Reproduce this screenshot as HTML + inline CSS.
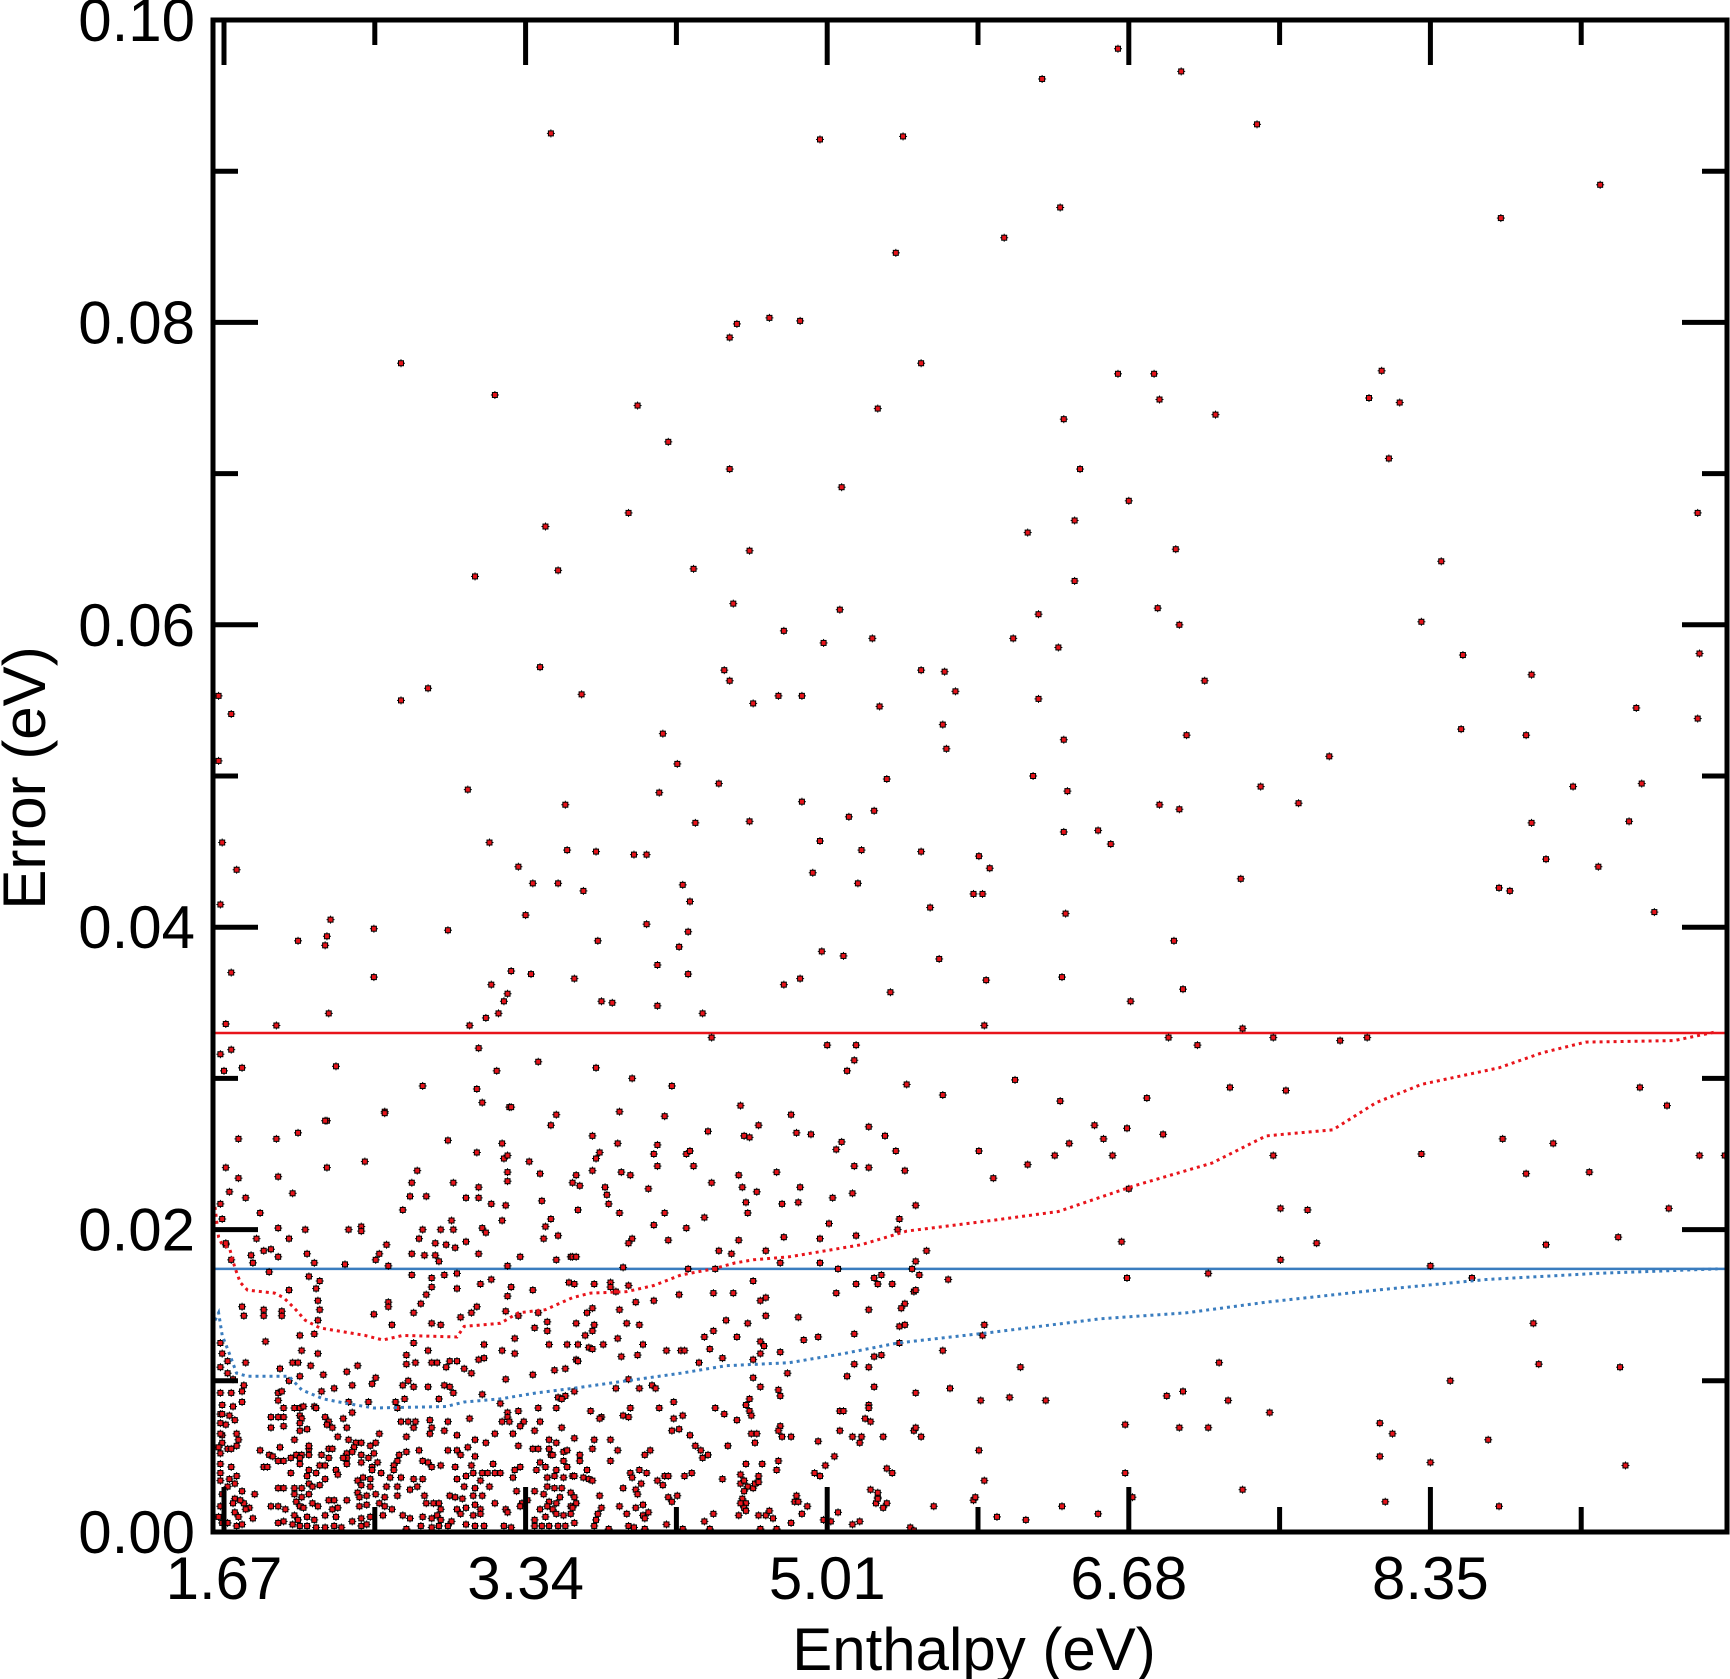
<!DOCTYPE html>
<html><head><meta charset="utf-8"><style>
html,body{margin:0;padding:0;background:#fff}
svg{display:block}
text{font-family:"Liberation Sans",Arial,sans-serif;fill:#000}
</style></head><body>
<svg id="chart" width="1730" height="1679" viewBox="0 0 1730 1679" xmlns="http://www.w3.org/2000/svg">
<g id="marks"></g>
<g id="axes"></g>
</svg>
<script>
const xTickValues=[1.67,3.34,5.01,6.68,8.35];
const xTickLabels=["1.67","3.34","5.01","6.68","8.35"];
const xMinorValues=[2.505,4.175,5.845,7.515,9.185];
const yTickValues=[0,0.02,0.04,0.06,0.08,0.10];
const yTickLabels=["0.00","0.02","0.04","0.06","0.08","0.10"];
const yMinorValues=[0.01,0.03,0.05,0.07,0.09];
const redThreshold=0.033;
const blueThreshold=0.0174;
const redCurveX=[1.62,1.64,1.66,1.70,1.73,1.76,1.80,1.95,2.00,2.06,2.12,2.20,2.30,2.45,2.55,2.66,2.96,3.00,3.20,3.30,3.45,3.60,3.70,3.90,4.05,4.20,4.38,4.50,4.60,4.80,5.00,5.20,5.45,5.92,6.29,6.71,7.14,7.44,7.81,8.05,8.30,8.73,8.97,9.21,9.70,9.94];
const redCurveY=[0.0215,0.0195,0.0190,0.0188,0.0175,0.0165,0.0160,0.0158,0.0155,0.0148,0.0140,0.0135,0.0133,0.0130,0.0127,0.0130,0.0129,0.0136,0.0138,0.0145,0.0147,0.0155,0.0158,0.0159,0.0163,0.0170,0.0174,0.0178,0.0180,0.0182,0.0186,0.0190,0.0199,0.0206,0.0212,0.0229,0.0244,0.0262,0.0266,0.0284,0.0296,0.0307,0.0317,0.0324,0.0325,0.0331];
const blueCurveX=[1.62,1.64,1.66,1.70,1.74,1.80,2.03,2.10,2.22,2.35,2.50,2.90,3.00,3.20,3.40,3.60,3.90,4.20,4.45,4.80,5.10,5.40,5.92,6.52,7.00,7.44,8.05,8.66,9.27,9.94];
const blueCurveY=[0.0140,0.0145,0.0130,0.0118,0.0105,0.0103,0.0103,0.0094,0.0088,0.0085,0.0082,0.0083,0.0086,0.0088,0.0092,0.0095,0.0100,0.0105,0.0110,0.0112,0.0118,0.0125,0.0132,0.0141,0.0145,0.0152,0.0160,0.0167,0.0171,0.0174];
const samples=[
[6.62,0.0981],[6.20,0.0961],[6.97,0.0966],[7.39,0.0931],[3.48,0.0925],[4.97,0.0921],[5.43,0.0923],[9.29,0.0891],[8.74,0.0869],[6.30,0.0876],[5.99,0.0856],[5.39,0.0846],[4.47,0.0790],[4.51,0.0799],[4.69,0.0803],[4.86,0.0801],[2.65,0.0773],[5.53,0.0773],[6.62,0.0766],[6.82,0.0766],[8.08,0.0768],[8.01,0.0750],[8.18,0.0747],[6.85,0.0749],[3.17,0.0752],[3.96,0.0745],[5.29,0.0743],[7.16,0.0739],[6.32,0.0736],[4.13,0.0721],[8.12,0.0710],[6.41,0.0703],[4.47,0.0703],[5.09,0.0691],[6.68,0.0682],[3.91,0.0674],[3.45,0.0665],[6.38,0.0669],[9.83,0.0674],[6.12,0.0661],[4.58,0.0649],[6.94,0.0650],[8.41,0.0642],[3.52,0.0636],[3.06,0.0632],[4.27,0.0637],[6.38,0.0629],[4.49,0.0614],[5.08,0.0610],[6.84,0.0611],[6.18,0.0607],[8.30,0.0602],[6.96,0.0600],[4.77,0.0596],[6.04,0.0591],[5.26,0.0591],[4.99,0.0588],[6.29,0.0585],[8.53,0.0580],[9.84,0.0581],[3.42,0.0572],[4.44,0.0570],[5.53,0.0570],[5.66,0.0569],[8.91,0.0567],[4.47,0.0563],[7.10,0.0563],[3.65,0.0554],[2.80,0.0558],[4.60,0.0548],[4.74,0.0553],[4.87,0.0553],[6.18,0.0551],[2.65,0.0550],[5.72,0.0556],[9.49,0.0545],[5.30,0.0546],[9.83,0.0538],[5.65,0.0534],[8.52,0.0531],[8.88,0.0527],[6.32,0.0524],[7.00,0.0527],[4.10,0.0528],[5.67,0.0518],[7.79,0.0513],[4.18,0.0508],[5.34,0.0498],[9.14,0.0493],[9.52,0.0495],[3.02,0.0491],[4.41,0.0495],[7.41,0.0493],[6.34,0.0490],[6.15,0.0500],[4.08,0.0489],[4.87,0.0483],[7.62,0.0482],[6.85,0.0481],[3.56,0.0481],[6.96,0.0478],[5.13,0.0473],[4.28,0.0469],[4.58,0.0470],[8.91,0.0469],[9.45,0.0470],[5.27,0.0477],[6.51,0.0464],[6.58,0.0455],[6.32,0.0463],[3.14,0.0456],[4.97,0.0457],[1.71,0.0541],[1.64,0.0553],[1.64,0.0510],[1.66,0.0456],[1.74,0.0438],[5.53,0.0450],[5.20,0.0451],[5.85,0.0447],[5.91,0.0439],[3.57,0.0451],[3.73,0.0450],[3.94,0.0448],[4.01,0.0448],[8.99,0.0445],[9.28,0.0440],[3.30,0.0440],[4.93,0.0436],[7.30,0.0432],[5.18,0.0429],[3.52,0.0429],[3.38,0.0429],[4.21,0.0428],[8.73,0.0426],[8.79,0.0424],[5.82,0.0422],[3.66,0.0424],[5.87,0.0422],[4.25,0.0417],[5.58,0.0413],[9.59,0.0410],[6.33,0.0409],[3.34,0.0408],[1.65,0.0415],[2.26,0.0405],[2.50,0.0399],[2.91,0.0398],[4.01,0.0402],[4.24,0.0397],[2.08,0.0391],[2.24,0.0394],[2.23,0.0388],[3.74,0.0391],[4.19,0.0387],[6.93,0.0391],[4.98,0.0384],[5.10,0.0381],[5.63,0.0379],[4.07,0.0375],[3.26,0.0371],[3.37,0.0369],[4.24,0.0369],[1.71,0.0370],[2.50,0.0367],[3.61,0.0366],[4.86,0.0366],[5.89,0.0365],[6.31,0.0367],[4.77,0.0362],[3.15,0.0362],[6.98,0.0359],[5.36,0.0357],[3.24,0.0356],[3.22,0.0351],[3.76,0.0351],[3.82,0.0350],[6.69,0.0351],[3.19,0.0343],[4.07,0.0348],[4.32,0.0343],[2.25,0.0343],[3.12,0.0340],[1.68,0.0336],[1.96,0.0335],[5.88,0.0335],[7.31,0.0333],[4.37,0.0327],[7.48,0.0327],[6.90,0.0327],[7.06,0.0322],[7.85,0.0325],[8.00,0.0327],[5.01,0.0322],[5.17,0.0322],[1.65,0.0316],[1.71,0.0319],[3.03,0.0335],[3.08,0.0320],[3.41,0.0311],[1.67,0.0305],[1.77,0.0307],[2.29,0.0308],[3.18,0.0305],[3.73,0.0307],[5.16,0.0312],[5.12,0.0305],[6.05,0.0299],[3.93,0.0300],[2.77,0.0295],[3.07,0.0293],[4.15,0.0295],[7.24,0.0294],[7.55,0.0292],[9.51,0.0294],[5.65,0.0289],[5.45,0.0296],[6.30,0.0285],[6.78,0.0287],[9.66,0.0282],[3.25,0.0281],[2.56,0.0278],[2.24,0.0272],[6.67,0.0267],[6.49,0.0269],[6.87,0.0263],[8.75,0.0260],[9.03,0.0257],[9.84,0.0249],[8.30,0.0250],[7.48,0.0249],[9.23,0.0238],[9.98,0.0249],[9.67,0.0214],[9.39,0.0195],[8.88,0.0237],[7.67,0.0213],[7.52,0.0214],[7.72,0.0191],[7.52,0.0180],[6.67,0.0168],[7.12,0.0171],[8.99,0.0190],[8.92,0.0138],[8.95,0.0111],[8.35,0.0176],[8.58,0.0168],[8.46,0.0100],[9.40,0.0109],[8.07,0.0072],[8.14,0.0065],[8.07,0.0050],[8.67,0.0061],[8.35,0.0046],[9.43,0.0044],[8.73,0.0017],[8.10,0.0020],[7.46,0.0079],[7.23,0.0087],[6.89,0.0090],[6.98,0.0093],[7.18,0.0112],[7.12,0.0069],[6.96,0.0069],[7.31,0.0028],[6.66,0.0071],[6.70,0.0023],[6.66,0.0039],[6.51,0.0012],[6.31,0.0017],[6.22,0.0087],[6.08,0.0109],[6.11,0.0008],[5.88,0.0034],[5.85,0.0054],[5.82,0.0021],[5.83,0.0023],[5.95,0.0010],[5.49,0.0067],[5.60,0.0017],[5.29,0.0023],[5.25,0.0028],[5.47,0.0003],[6.02,0.0089],[6.68,0.0227],[6.64,0.0192],[5.68,0.0167],[5.85,0.0252],[5.93,0.0234],[6.12,0.0243],[6.27,0.0249],[6.59,0.0249],[6.54,0.0260],[6.35,0.0257],[5.88,0.0137],[5.87,0.0130],[5.65,0.0120],[5.69,0.0095],[5.86,0.0087],
[3.10,0.0284],[3.26,0.0281],[2.56,0.0277],[3.51,0.0276],[2.23,0.0272],[3.48,0.0269],[1.75,0.0260],[1.96,0.0260],[2.08,0.0264],[2.91,0.0259],[3.21,0.0257],[3.07,0.0251],[3.22,0.0247],[3.24,0.0249],[2.45,0.0245],[3.36,0.0245],[1.68,0.0241],[2.24,0.0241],[2.74,0.0239],[3.42,0.0237],[1.75,0.0234],[1.97,0.0235],[3.24,0.0238],[2.71,0.0231],[2.94,0.0231],[3.24,0.0232],[1.70,0.0225],[2.05,0.0224],[1.79,0.0221],[2.70,0.0222],[2.79,0.0222],[3.01,0.0221],[3.08,0.0228],[3.08,0.0221],[3.15,0.0217],[3.43,0.0219],[3.23,0.0216],[1.87,0.0211],[2.66,0.0213],[3.48,0.0207],[2.93,0.0206],[3.21,0.0206],[3.45,0.0202],[1.97,0.0201],[2.12,0.0200],[2.36,0.0200],[2.43,0.0202],[2.43,0.0199],[2.77,0.0200],[2.87,0.0200],[2.94,0.0200],[3.10,0.0201],[3.12,0.0198],[3.52,0.0196],[1.85,0.0194],[2.03,0.0194],[2.75,0.0194],[3.44,0.0194],[1.68,0.0190],[1.89,0.0186],[1.93,0.0187],[2.57,0.0190],[2.84,0.0191],[2.90,0.0190],[2.95,0.0188],[3.01,0.0192],[1.82,0.0183],[1.97,0.0182],[2.13,0.0184],[2.53,0.0184],[2.71,0.0184],[2.78,0.0183],[2.84,0.0183],[3.08,0.0184],[3.31,0.0182],[3.51,0.0180],[3.59,0.0182],[1.71,0.0180],[1.83,0.0178],[2.17,0.0178],[2.51,0.0180],[2.86,0.0179],[2.34,0.0177],[2.58,0.0176],[3.24,0.0176],
[1.92,0.0172],[2.14,0.0169],[2.20,0.0166],[2.71,0.0170],[2.82,0.0168],[2.89,0.0170],[2.96,0.0171],[3.58,0.0165],[2.03,0.0160],[2.18,0.0161],[2.82,0.0162],[2.96,0.0161],[3.09,0.0164],[3.15,0.0167],[3.26,0.0162],[2.79,0.0157],[3.24,0.0156],[3.38,0.0160],[2.19,0.0153],[2.58,0.0152],[2.58,0.0149],[2.76,0.0151],[1.77,0.0149],[1.78,0.0143],[1.89,0.0147],[1.89,0.0143],[1.99,0.0146],[1.99,0.0143],[2.20,0.0147],[2.72,0.0145],[2.50,0.0144],[3.04,0.0145],[3.07,0.0149],[3.23,0.0146],[3.30,0.0143],[3.41,0.0145],[2.98,0.0142],[2.19,0.0140],[2.82,0.0138],[3.46,0.0139],[2.60,0.0137],[2.87,0.0137],[3.39,0.0135],[3.46,0.0133],[2.17,0.0131],[2.09,0.0130],[3.28,0.0128],[1.90,0.0126],[2.72,0.0125],[3.11,0.0124],[3.47,0.0124],[3.57,0.0124],[2.10,0.0120],[2.80,0.0120],[3.21,0.0120],[2.19,0.0118],[2.68,0.0117],[3.28,0.0118],[3.08,0.0114],[3.11,0.0115],[2.96,0.0113],[2.92,0.0113],[2.05,0.0112],[2.08,0.0112],[2.15,0.0110],[2.41,0.0110],[2.68,0.0111],[2.73,0.0112],[2.82,0.0112],[2.85,0.0112],[2.90,0.0109],[3.00,0.0108],[3.04,0.0105],[3.38,0.0104],[3.50,0.0107],[3.56,0.0108],[1.98,0.0108],[1.69,0.0113],[1.79,0.0112],[2.22,0.0104],[2.35,0.0106],[2.51,0.0102],[2.03,0.0100],[2.09,0.0103],[2.69,0.0100],[2.28,0.0095],[2.38,0.0097],[2.49,0.0098],[2.66,0.0097],[2.72,0.0096],[2.80,0.0096],[2.89,0.0097],[2.92,0.0096],[3.23,0.0101],[1.78,0.0097],[1.77,0.0093],[1.97,0.0092],[1.99,0.0093],[2.21,0.0093],[2.94,0.0092],[3.10,0.0091],[1.71,0.0092],[1.77,0.0086],[1.97,0.0087],[2.36,0.0086],[2.47,0.0086],[2.67,0.0088],[2.86,0.0088],[3.52,0.0089],[3.56,0.0090],[3.54,0.0088],[1.66,0.0084],[1.72,0.0083],[2.00,0.0082],[2.06,0.0082],[2.09,0.0082],[2.11,0.0083],[2.17,0.0083],[2.18,0.0082],[2.62,0.0086],[2.63,0.0082],[3.20,0.0085],[3.51,0.0082],[3.41,0.0082],[3.30,0.0080],[2.38,0.0079],[3.24,0.0079],[1.70,0.0077],[1.93,0.0076],[1.97,0.0076],[2.00,0.0076],[2.09,0.0077],[2.10,0.0075],[2.23,0.0076],[3.24,0.0076],[1.73,0.0074],[2.33,0.0075],[2.65,0.0073],[2.69,0.0073],[2.73,0.0073],[2.81,0.0074],[2.91,0.0073],[3.03,0.0075],[3.21,0.0073],[3.25,0.0073],[3.33,0.0073],[3.42,0.0073],[2.09,0.0072],[2.25,0.0073],[1.68,0.0071],[2.00,0.0070],[2.24,0.0071],[2.72,0.0069],[3.31,0.0070],[1.93,0.0069],[2.13,0.0068],[2.27,0.0069],[2.35,0.0069],[2.82,0.0069],[3.54,0.0069],[3.39,0.0067],[2.09,0.0067],[2.53,0.0065],[2.89,0.0067],[1.74,0.0065],[1.66,0.0064],[2.30,0.0063],[2.68,0.0063],[2.81,0.0065],[2.96,0.0064],[3.17,0.0065],[3.27,0.0065],[1.75,0.0061],[2.06,0.0061],[2.36,0.0061],[3.06,0.0061],[3.47,0.0061],[3.30,0.0057],[3.51,0.0059],[3.12,0.0059],[1.66,0.0059],[1.74,0.0057],[2.40,0.0059],[2.43,0.0059],[2.51,0.0059],[1.69,0.0055],[1.87,0.0054],[1.98,0.0056],[2.25,0.0055],[2.27,0.0055],[2.39,0.0056],[2.48,0.0057],[3.38,0.0055],[3.41,0.0055],[3.55,0.0053],[3.47,0.0055],[2.96,0.0054],[2.91,0.0054],[3.02,0.0056],[2.68,0.0053],[2.75,0.0054],[2.14,0.0055],[2.14,0.0057],[1.71,0.0055],[1.92,0.0051],[1.94,0.0050],[2.07,0.0051],[2.04,0.0049],[2.10,0.0051],[2.14,0.0051],[2.21,0.0051],[2.35,0.0052],[2.35,0.0049],[2.38,0.0053],[2.43,0.0051],[2.50,0.0052],[2.64,0.0051],[2.98,0.0051],[3.06,0.0050],[3.48,0.0051],[3.49,0.0051],[3.57,0.0054],[1.97,0.0047],[2.00,0.0047],[2.09,0.0049],[2.33,0.0049],[2.25,0.0049],[2.52,0.0046],[2.47,0.0049],[2.43,0.0046],[2.63,0.0047],[2.77,0.0047],[2.80,0.0046],[3.16,0.0045],[3.42,0.0046],[3.55,0.0047],[1.71,0.0043],[1.89,0.0043],[1.91,0.0043],[2.04,0.0039],[2.09,0.0045],[2.20,0.0044],[2.23,0.0044],[2.29,0.0041],[2.30,0.0038],[2.35,0.0045],[2.49,0.0043],[2.49,0.0041],[2.54,0.0039],[2.61,0.0044],[2.61,0.0041],[2.82,0.0043],[2.87,0.0044],[2.95,0.0043],[3.04,0.0044],[3.05,0.0039],[3.10,0.0039],[3.13,0.0039],[3.17,0.0039],[3.20,0.0039],[3.28,0.0041],[3.31,0.0043],[3.40,0.0041],[3.45,0.0043],[3.51,0.0041],[3.57,0.0043],[3.50,0.0037],[3.46,0.0036],[3.55,0.0036],[3.60,0.0037],[1.74,0.0037],[2.14,0.0041],[2.18,0.0039],[2.13,0.0037],[2.23,0.0035],[2.41,0.0034],[2.44,0.0036],[2.48,0.0035],[2.59,0.0036],[2.65,0.0036],[2.72,0.0035],[2.77,0.0035],[2.96,0.0035],[3.01,0.0037],[3.09,0.0034],[3.27,0.0036],[1.70,0.0035],[1.65,0.0034],[1.73,0.0032],[2.14,0.0032],[2.16,0.0030],[2.20,0.0031],[2.43,0.0031],[2.57,0.0030],[2.63,0.0030],[2.74,0.0030],[2.48,0.0030],[1.97,0.0029],[2.00,0.0029],[2.06,0.0029],[2.10,0.0029],[3.00,0.0030],[3.06,0.0029],[3.14,0.0030],[3.46,0.0030],[3.50,0.0029],[3.54,0.0029],[1.77,0.0027],[1.84,0.0025],[2.41,0.0026],[2.70,0.0028],[2.78,0.0024],[2.92,0.0024],[3.05,0.0024],[3.10,0.0024],[3.29,0.0027],[3.39,0.0027],[3.44,0.0025],[3.53,0.0023],[3.59,0.0026],[2.06,0.0025],[2.10,0.0023],[2.14,0.0025],[2.25,0.0021],[2.28,0.0021],[2.35,0.0021],[2.42,0.0023],[2.46,0.0024],[2.51,0.0025],[2.56,0.0023],[2.63,0.0024],[2.95,0.0023],[2.99,0.0022],[3.17,0.0019],[3.32,0.0019],[3.35,0.0021],[3.47,0.0020],[3.51,0.0019],[3.59,0.0017],[1.73,0.0022],[1.78,0.0019],[1.81,0.0016],[1.93,0.0017],[1.97,0.0017],[2.01,0.0015],[2.07,0.0020],[2.09,0.0017],[2.11,0.0016],[2.16,0.0019],[2.19,0.0017],[2.27,0.0015],[2.30,0.0016],[2.42,0.0017],[2.46,0.0018],[2.53,0.0019],[2.56,0.0017],[2.60,0.0015],[2.79,0.0019],[2.83,0.0019],[2.86,0.0019],[2.87,0.0015],[2.96,0.0015],[3.01,0.0016],[3.06,0.0018],[3.09,0.0015],[3.23,0.0015],[3.31,0.0017],[3.42,0.0015],[3.46,0.0017],[3.49,0.0015],[1.73,0.0013],[1.83,0.0009],[2.00,0.0007],[2.06,0.0011],[2.08,0.0008],[2.13,0.0010],[2.17,0.0008],[2.23,0.0011],[2.29,0.0010],[2.38,0.0007],[2.43,0.0009],[2.48,0.0010],[2.55,0.0011],[2.66,0.0011],[2.70,0.0009],[2.77,0.0010],[2.82,0.0009],[2.85,0.0011],[2.87,0.0008],[2.93,0.0007],[2.98,0.0012],[3.05,0.0011],[3.09,0.0012],[3.24,0.0013],[3.39,0.0008],[3.45,0.0010],[3.51,0.0012],[3.55,0.0011],[3.59,0.0012],[1.64,0.0010],[1.69,0.0006],[1.74,0.0004],[1.77,0.0005],[1.97,0.0006],[2.05,0.0005],[2.09,0.0004],[2.13,0.0004],[2.18,0.0003],[2.23,0.0003],[2.28,0.0004],[2.32,0.0003],[2.43,0.0004],[2.46,0.0005],[2.68,0.0002],[2.76,0.0004],[2.82,0.0003],[2.86,0.0004],[2.91,0.0004],[3.01,0.0005],[3.06,0.0004],[3.11,0.0004],[3.22,0.0004],[3.26,0.0003],[3.39,0.0004],[3.43,0.0004],[3.47,0.0004],[3.52,0.0004],[3.56,0.0004],
[1.65,0.0039],[1.65,0.0045],[1.65,0.0052],[1.65,0.0065],[1.65,0.0072],[1.65,0.0078],[1.66,0.0025],[1.65,0.0017],[1.66,0.0006],[1.69,0.0030],[1.72,0.0019],[1.75,0.0010],[1.79,0.0015],[1.76,0.0021],[1.65,0.0217],[1.66,0.0207],[1.68,0.0191],[1.65,0.0125],[1.66,0.0118],[1.65,0.0109],[1.69,0.0105],[1.72,0.0101],[1.65,0.0092],[1.66,0.0078],[1.64,0.0056],
[3.86,0.0278],[4.11,0.0275],[4.53,0.0282],[4.81,0.0276],[4.63,0.0269],[4.35,0.0265],[3.71,0.0262],[3.85,0.0257],[4.07,0.0256],[3.75,0.0251],[3.73,0.0247],[4.05,0.0250],[4.23,0.0250],[4.25,0.0252],[4.55,0.0262],[4.58,0.0261],[4.84,0.0264],[4.92,0.0263],[5.24,0.0268],[5.33,0.0262],[5.09,0.0258],[5.06,0.0253],[5.39,0.0252],[3.71,0.0239],[3.87,0.0238],[3.92,0.0236],[4.07,0.0242],[4.27,0.0242],[4.52,0.0236],[4.73,0.0238],[5.16,0.0242],[5.24,0.0241],[5.44,0.0239],[3.62,0.0236],[3.60,0.0231],[3.64,0.0229],[3.78,0.0228],[3.79,0.0223],[4.02,0.0227],[4.37,0.0231],[4.54,0.0228],[4.62,0.0225],[4.86,0.0228],[3.80,0.0217],[3.63,0.0213],[3.86,0.0211],[4.11,0.0211],[4.56,0.0218],[4.57,0.0211],[4.76,0.0217],[4.85,0.0218],[5.04,0.0221],[5.15,0.0224],[5.50,0.0216],[4.33,0.0208],[5.41,0.0207],[4.05,0.0203],[4.23,0.0201],[5.02,0.0204],[5.40,0.0200],[3.93,0.0194],[3.91,0.0191],[4.13,0.0193],[4.52,0.0193],[4.77,0.0195],[4.97,0.0194],[5.17,0.0196],[4.41,0.0186],[4.48,0.0184],[4.67,0.0186],[5.56,0.0186],[3.60,0.0182],[3.62,0.0182],[4.97,0.0178],[4.75,0.0178],[5.50,0.0179],[3.88,0.0175],[4.24,0.0174],[4.39,0.0174],[5.07,0.0174],[5.48,0.0174],[5.31,0.0170],[5.52,0.0170],[4.60,0.0166],[5.27,0.0168],[5.37,0.0164],[5.29,0.0164],[5.17,0.0164],[3.61,0.0164],[3.72,0.0164],[3.81,0.0165],[3.81,0.0162],[3.91,0.0163],[3.84,0.0159],[4.19,0.0157],[4.38,0.0158],[4.49,0.0158],[5.06,0.0158],[4.64,0.0153],[4.67,0.0155],[3.95,0.0152],[4.05,0.0153],[5.49,0.0159],[5.50,0.0160],[5.44,0.0151],[5.42,0.0148],[3.71,0.0148],[3.68,0.0145],[3.86,0.0147],[4.67,0.0143],[5.24,0.0147],[4.85,0.0142],[4.45,0.0140],[3.90,0.0138],[3.62,0.0138],[3.72,0.0137],[3.97,0.0137],[4.57,0.0138],[5.41,0.0136],[5.44,0.0137],[3.71,0.0133],[4.38,0.0133],[3.67,0.0130],[3.85,0.0128],[4.33,0.0129],[4.51,0.0129],[4.64,0.0126],[4.88,0.0127],[4.96,0.0129],[5.16,0.0131],[3.63,0.0124],[3.77,0.0124],[3.99,0.0124],[4.66,0.0123],[5.41,0.0125],[3.69,0.0122],[3.71,0.0121],[4.36,0.0121],[4.12,0.0120],[4.20,0.0120],[4.22,0.0120],[4.64,0.0118],[4.75,0.0119],[3.87,0.0116],[3.96,0.0117],[4.43,0.0115],[5.27,0.0116],[5.31,0.0117],[3.62,0.0114],[3.63,0.0113],[4.30,0.0112],[4.60,0.0114],[5.16,0.0111],[5.24,0.0109],[4.79,0.0105],[5.12,0.0103],[3.91,0.0101],[4.60,0.0102],[4.04,0.0097],[4.06,0.0095],[4.64,0.0096],[5.27,0.0096],[3.84,0.0095],[3.97,0.0095],[3.61,0.0093],[4.74,0.0094],[4.75,0.0090],[5.50,0.0092],[4.58,0.0088],[4.16,0.0086],[4.56,0.0084],[5.24,0.0084],[5.24,0.0082],[4.08,0.0082],[3.92,0.0082],[4.39,0.0082],[4.58,0.0080],[3.70,0.0080],[5.08,0.0080],[5.10,0.0080],[4.44,0.0078],[4.59,0.0077],[3.76,0.0076],[3.88,0.0077],[3.91,0.0076],[4.21,0.0077],[3.75,0.0075],[4.16,0.0075],[5.22,0.0075],[4.51,0.0074],[5.25,0.0073],[4.75,0.0070],[5.50,0.0069],[4.15,0.0067],[4.19,0.0068],[4.74,0.0067],[5.08,0.0067],[4.59,0.0065],[4.62,0.0065],[4.25,0.0064],[4.76,0.0063],[4.81,0.0063],[5.15,0.0063],[5.20,0.0063],[5.32,0.0063],[3.61,0.0062],[3.72,0.0061],[3.81,0.0061],[4.61,0.0059],[4.96,0.0060],[5.19,0.0059],[5.53,0.0063],[4.28,0.0057],[4.46,0.0057],[3.71,0.0055],[3.85,0.0054],[4.31,0.0054],[4.03,0.0054],[4.00,0.0051],[3.64,0.0051],[4.35,0.0051],[4.32,0.0049],[3.64,0.0047],[3.81,0.0047],[5.05,0.0050],[4.56,0.0045],[4.65,0.0045],[4.74,0.0047],[5.00,0.0044],[5.34,0.0042],[3.68,0.0041],[3.92,0.0039],[3.97,0.0041],[4.01,0.0039],[4.73,0.0041],[4.94,0.0039],[5.37,0.0039],[4.26,0.0039],[3.61,0.0037],[3.66,0.0036],[3.69,0.0035],[3.71,0.0034],[3.93,0.0036],[4.11,0.0037],[4.13,0.0037],[4.22,0.0037],[4.43,0.0035],[4.53,0.0038],[4.63,0.0037],[4.97,0.0037],[4.07,0.0034],[3.98,0.0032],[4.10,0.0031],[3.88,0.0029],[3.95,0.0028],[3.96,0.0025],[3.75,0.0024],[3.61,0.0023],[4.13,0.0023],[4.18,0.0024],[4.15,0.0020],[3.62,0.0019],[3.60,0.0016],[3.76,0.0016],[3.86,0.0017],[3.95,0.0016],[3.99,0.0018],[4.02,0.0013],[3.74,0.0012],[3.90,0.0012],[3.99,0.0011],[3.73,0.0008],[3.61,0.0006],[3.72,0.0004],[3.91,0.0004],[3.94,0.0003],[4.00,0.0002],[3.80,0.0002],[4.00,0.0009],[4.12,0.0005],[4.21,0.0002],[4.33,0.0007],[4.36,0.0002],[4.38,0.0012],[4.52,0.0011],[4.53,0.0032],[4.55,0.0034],[4.57,0.0030],[4.55,0.0027],[4.54,0.0022],[4.56,0.0019],[4.55,0.0016],[4.56,0.0014],[4.60,0.0029],[4.61,0.0032],[4.63,0.0033],[4.53,0.0019],[4.63,0.0011],[4.67,0.0011],[4.69,0.0014],[4.71,0.0009],[4.64,0.0002],[4.73,0.0002],[4.81,0.0006],[4.83,0.0020],[4.85,0.0020],[4.84,0.0024],[4.87,0.0012],[4.90,0.0017],[4.99,0.0008],[5.03,0.0007],[5.07,0.0013],[5.15,0.0005],[5.19,0.0007],[5.28,0.0019],[5.29,0.0022],[5.29,0.0026],[5.34,0.0019],[5.32,0.0016],[5.49,0.0001]
];

const NS="http://www.w3.org/2000/svg";
const L=213,R=1727,T=20,B=1532;
const X0=1.67,XPX0=224,XSCALE=180.6;
function xs(v){return XPX0+(v-X0)*XSCALE;}
function ys(v){return B-v*(B-T)/0.1;}
function mk(tag,attrs,parent){const e=document.createElementNS(NS,tag);for(const k in attrs)e.setAttribute(k,attrs[k]);parent.appendChild(e);return e;}
const marks=document.getElementById('marks');
const axes=document.getElementById('axes');

// threshold lines
let ln=mk('line',{x1:L,x2:R,y1:ys(redThreshold),y2:ys(redThreshold),stroke:'#e8141b','stroke-width':2.5},marks);


ln=mk('line',{x1:L,x2:R,y1:ys(blueThreshold),y2:ys(blueThreshold),stroke:'#3a7dbf','stroke-width':2.5},marks);



// scatter
const sg=mk('g',{},marks);


samples.forEach(p=>{
  const cx=xs(p[0]),cy=ys(p[1]);
  if(cx<L||cx>R)return;
  const g=mk('g',{},sg);
  
  
  mk('line',{x1:cx,x2:cx,y1:cy-4,y2:cy+4,stroke:'#000','stroke-width':1},g);
  mk('line',{x1:cx-4,x2:cx+4,y1:cy,y2:cy,stroke:'#000','stroke-width':1},g);
  mk('rect',{x:cx-2.5,y:cy-2.5,width:5,height:5,fill:'#e8141b',stroke:'#000','stroke-width':1},g);
});

// running curves
function curve(xa,ya,color,name){
  const pts=xa.map((v,i)=>xs(v).toFixed(1)+','+ys(ya[i]).toFixed(1)).join(' ');
  const pl=mk('polyline',{points:pts,fill:'none',stroke:color,'stroke-width':3,'stroke-dasharray':'3,4'},marks);
  
  
}
curve(redCurveX,redCurveY,'#e8141b','red-running-curve');
curve(blueCurveX,blueCurveY,'#3a7dbf','blue-running-curve');

// frame
const fr=mk('rect',{x:L,y:T,width:R-L,height:B-T,fill:'none',stroke:'#000','stroke-width':5},axes);



// x ticks
xTickValues.forEach((v,i)=>{
  const x=xs(v);
  mk('line',{x1:x,x2:x,y1:B,y2:B-45,stroke:'#000','stroke-width':5},axes);
  mk('line',{x1:x,x2:x,y1:T,y2:T+45,stroke:'#000','stroke-width':5},axes);
  const t=mk('text',{x:x,y:1599,'font-size':60,'text-anchor':'middle'},axes);
  t.textContent=xTickLabels[i];
  
  
});
xMinorValues.forEach(v=>{
  const x=xs(v);
  mk('line',{x1:x,x2:x,y1:B,y2:B-25,stroke:'#000','stroke-width':5},axes);
  mk('line',{x1:x,x2:x,y1:T,y2:T+25,stroke:'#000','stroke-width':5},axes);
});
// y ticks
yTickValues.forEach((v,i)=>{
  const y=ys(v);
  mk('line',{x1:L,x2:L+45,y1:y,y2:y,stroke:'#000','stroke-width':5},axes);
  mk('line',{x1:R,x2:R-45,y1:y,y2:y,stroke:'#000','stroke-width':5},axes);
  const t=mk('text',{x:195,y:y+21,'font-size':60,'text-anchor':'end'},axes);
  t.textContent=yTickLabels[i];
  
  
});
yMinorValues.forEach(v=>{
  const y=ys(v);
  mk('line',{x1:L,x2:L+25,y1:y,y2:y,stroke:'#000','stroke-width':5},axes);
  mk('line',{x1:R,x2:R-25,y1:y,y2:y,stroke:'#000','stroke-width':5},axes);
});
let xt=mk('text',{x:974,y:1670,'font-size':60,'text-anchor':'middle'},axes);
xt.textContent='Enthalpy (eV)';


let yt=mk('text',{x:0,y:0,'font-size':60,'text-anchor':'middle',transform:'translate(45,778) rotate(-90)'},axes);
yt.textContent='Error (eV)';


</script>
</body></html>
